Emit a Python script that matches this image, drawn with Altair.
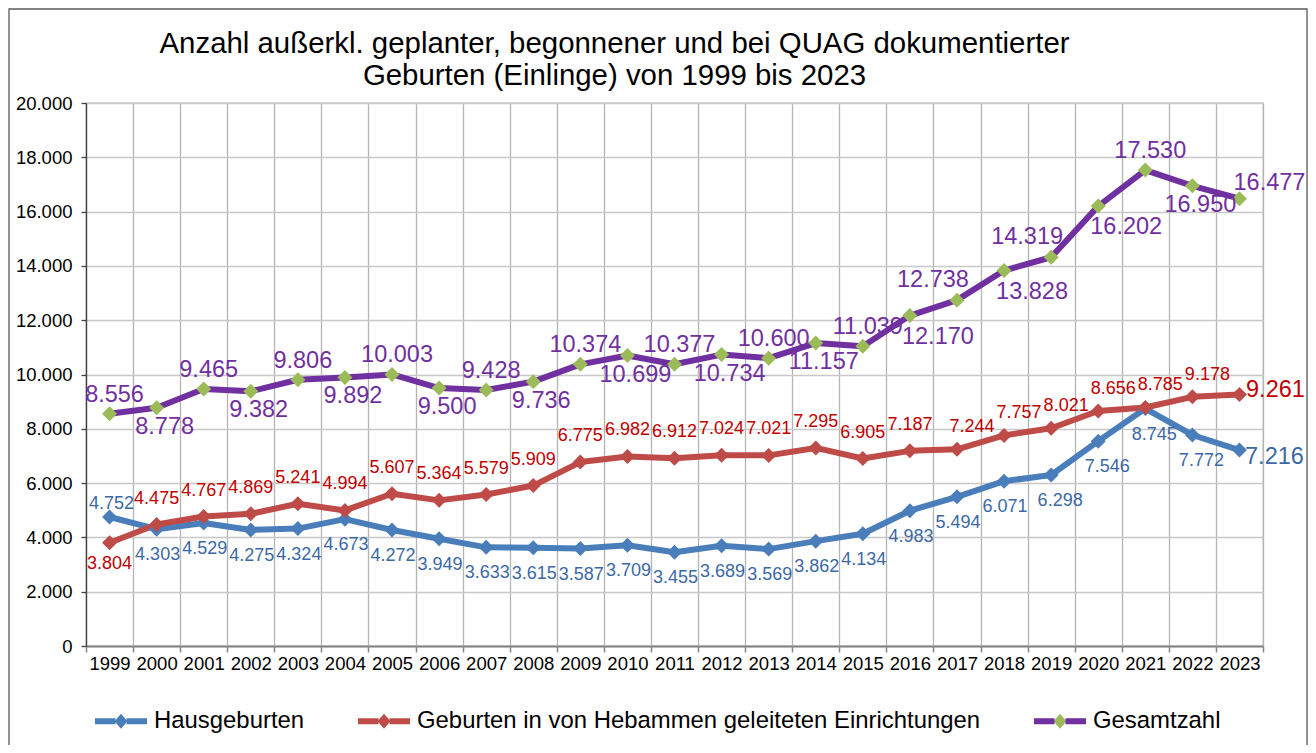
import altair as alt
import pandas as pd

# ---------------- data ----------------
jahre = ["1999", "2000", "2001", "2002", "2003", "2004", "2005", "2006", "2007",
         "2008", "2009", "2010", "2011", "2012", "2013", "2014", "2015", "2016",
         "2017", "2018", "2019", "2020", "2021", "2022", "2023"]

reihen = ["Hausgeburten",
          "Geburten in von Hebammen geleiteten Einrichtungen",
          "Gesamtzahl"]

haus = [4752, 4303, 4529, 4275, 4324, 4673, 4272, 3949, 3633, 3615, 3587, 3709,
        3455, 3689, 3569, 3862, 4134, 4983, 5494, 6071, 6298, 7546, 8745, 7772, 7216]

einr = [3804, 4475, 4767, 4869, 5241, 4994, 5607, 5364, 5579, 5909, 6775, 6982,
        6912, 7024, 7021, 7295, 6905, 7187, 7244, 7757, 8021, 8656, 8785, 9178, 9261]

gesamt = [8556, 8778, 9465, 9382, 9806, 9892, 10003, 9500, 9428, 9736, 10374, 10699,
          10377, 10734, 10600, 11157, 11039, 12170, 12738, 13828, 14319, 16202,
          17530, 16950, 16477]

# label placement (like the spreadsheet's data-label position)
pos_haus = ["oben", "unten", "unten", "unten", "unten", "unten", "unten", "unten",
            "unten", "unten", "unten", "unten", "unten", "unten", "unten", "unten",
            "unten", "unten", "unten", "unten", "unten-rechts", "unten-rechts",
            "unten-rechts", "unten-rechts", "rechts"]

pos_einr = ["unten", "oben", "oben", "oben", "oben", "oben", "oben", "oben", "oben",
            "oben", "oben", "oben", "oben", "oben", "oben", "oben", "oben", "oben",
            "oben-rechts", "oben-rechts", "oben-rechts", "oben-rechts", "oben-rechts",
            "oben-rechts", "rechts"]

pos_gesamt = ["oben", "unten", "oben", "unten", "oben", "unten", "oben", "unten",
              "oben", "unten", "oben", "unten", "oben", "unten", "oben", "unten",
              "oben", "unten-rechts", "oben-links", "unten-rechts", "oben-links",
              "unten-rechts", "oben", "unten", "rechts"]

y_ticks = [0, 2000, 4000, 6000, 8000, 10000, 12000, 14000, 16000, 18000, 20000]

title_lines = ["Anzahl außerkl. geplanter, begonnener und bei QUAG dokumentierter",
               "Geburten (Einlinge) von 1999 bis 2023"]

rows = []
for reihe, werte, lagen in zip(reihen, [haus, einr, gesamt], [pos_haus, pos_einr, pos_gesamt]):
    for j, v, p in zip(jahre, werte, lagen):
        rows.append({"Jahr": j, "Reihe": reihe, "Anzahl": v, "Lage": p})
df = pd.DataFrame(rows)

# ---------------- style ----------------
FONT = "Liberation Sans"
line_colors = ["#4A7EBB", "#BE4B48", "#7030A0"]
marker_colors = ["#4A7EBB", "#BE4B48", "#9BBB59"]

label_style = {
    "Hausgeburten": {
        "color": "#3C69A5", "size": 18,
        "offsets": {"oben": (2, -13), "unten": (1, 26), "unten-rechts": (9, 26),
                    "rechts": (35, 7)},
    },
    "Geburten in von Hebammen geleiteten Einrichtungen": {
        "color": "#C00000", "size": 18,
        "offsets": {"unten": (0, 21), "oben": (0, -26), "oben-rechts": (15, -22),
                    "rechts": (36, -5)},
    },
    "Gesamtzahl": {
        "color": "#7030A0", "size": 23.5,
        "offsets": {"oben": (5, -19), "unten": (8, 19), "oben-links": (-24, -20),
                    "unten-rechts": (28, 21), "rechts": (30, -16)},
    },
}
BIG = 23.5

x_enc = alt.X(
    "Jahr:O", sort=jahre,
    scale=alt.Scale(type="band", paddingInner=0, paddingOuter=0),
    axis=alt.Axis(title=None, labelAngle=0, labelFont=FONT, labelFontSize=18.5,
                  labelColor="#000000", labelPadding=2, tickBand="extent",
                  tickSize=6, tickColor="#868686", tickWidth=1.5,
                  domainColor="#868686", domainWidth=2, grid=True,
                  gridColor="#B4B4B4", gridWidth=1.3),
)
y_enc = alt.Y(
    "Anzahl:Q",
    scale=alt.Scale(domain=[0, 20000], nice=False, zero=True),
    axis=alt.Axis(title=None, values=y_ticks,
                  labelExpr="replace(format(datum.value, ','), ',', '.')",
                  labelFont=FONT, labelFontSize=18.5, labelColor="#000000",
                  labelPadding=9, tickSize=5, tickColor="#404040", tickWidth=1.3,
                  domainColor="#404040", domainWidth=1.3, grid=True,
                  gridColor="#C8C8C8", gridWidth=1.3),
)

SYMBOL = "M-1,0L1,0L0.25,0L0,-0.29L-0.25,0L0,0.29L0.25,0Z"
leg = alt.Legend(title=None, orient="none", legendX=6, legendY=589,
                 direction="horizontal", symbolType=SYMBOL, symbolSize=2704,
                 symbolStrokeWidth=6, symbolDash=[20.5, 11, 20.5, 1000],
                 labelFont=FONT, labelFontSize=23.9, labelColor="#000000",
                 labelOffset=4, labelLimit=800, columnPadding=41, padding=0,
                 symbolOpacity=1)

base = alt.Chart(df)

frame = alt.Chart(pd.DataFrame({"r": [0]})).mark_rect(
    fillOpacity=0, stroke="#595959", strokeWidth=1.3
).encode(x=alt.value(-77), x2=alt.value(1221), y=alt.value(-94), y2=alt.value(660))

lines = base.mark_line(strokeWidth=6, strokeJoin="round", strokeCap="round").encode(
    x=x_enc, y=y_enc,
    stroke=alt.Stroke("Reihe:N", scale=alt.Scale(domain=reihen, range=line_colors), legend=leg),
)

points = base.mark_point(shape="diamond", filled=True, size=225, opacity=1).encode(
    x=x_enc, y=y_enc,
    fill=alt.Fill("Reihe:N", scale=alt.Scale(domain=reihen, range=marker_colors), legend=leg),
)

texts = []
for reihe in reihen:
    st = label_style[reihe]
    for lage, (dx, dy) in st["offsets"].items():
        fs = BIG if lage == "rechts" else st["size"]
        t = base.transform_filter(
            f"datum.Reihe === '{reihe}' && datum.Lage === '{lage}'"
        ).transform_calculate(
            Label="replace(format(datum.Anzahl, ','), ',', '.')"
        ).mark_text(
            dx=dx, dy=dy, fontSize=fs, font=FONT, color=st["color"],
            align="center", baseline="middle"
        ).encode(x=x_enc, y=y_enc, text="Label:N")
        texts.append(t)

chart = alt.layer(frame, lines, points, *texts).properties(
    width=1177, height=543,
    padding={"left": 78, "top": 95, "right": 45, "bottom": 99},
    autosize=alt.AutoSizeParams(type="none"),
    background="#FFFFFF",
    title=alt.TitleParams(text=title_lines, font=FONT, fontSize=29.4, fontWeight="normal",
                          color="#000000", anchor="middle", dx=-60, offset=-83,
                          lineHeight=32),
).configure_view(stroke="#BFBFBF", strokeWidth=1.3)

chart.save("out.html", embed_options={"renderer": "svg", "actions": False})
